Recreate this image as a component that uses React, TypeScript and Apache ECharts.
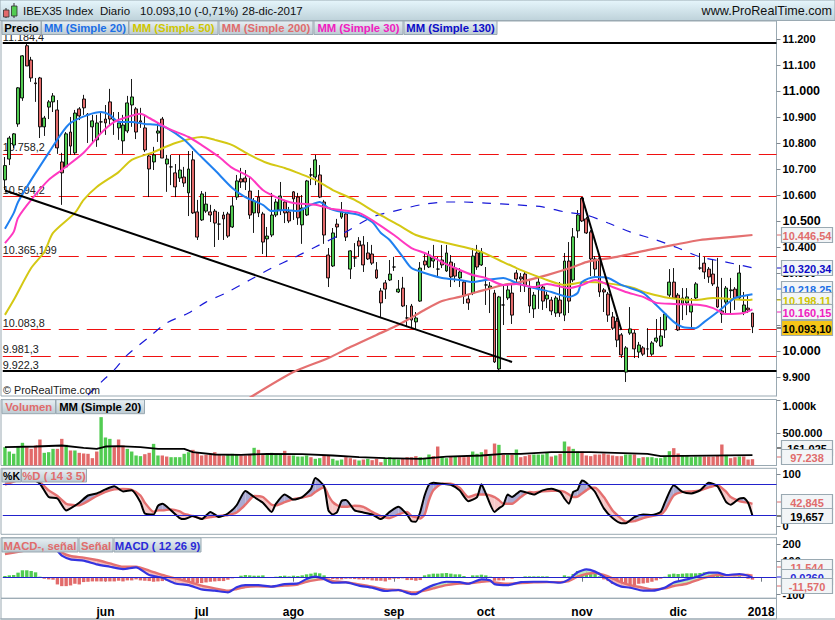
import { useEffect, useRef } from 'react'
import * as echarts from 'echarts'

// trading days per month, last ones are the empty slots before the axis end
const monthDays: [string, number[]][] = [
  ['abr', [28]],
  ['may', [2,3,4,5,8,9,10,11,12,15,16,17,18,19,22,23,24,25,26,29,30,31]],
  ['jun', [1,2,5,6,7,8,9,12,13,14,15,16,19,20,21,22,23,26,27,28,29,30]],
  ['jul', [3,4,5,6,7,10,11,12,13,14,17,18,19,20,21,24,25,26,27,28,31]],
  ['ago', [1,2,3,4,7,8,9,10,11,14,15,16,17,18,21,22,23,24,25,28,29,30,31]],
  ['sep', [1,4,5,6,7,8,11,12,13,14,15,18,19,20,21,22,25,26,27,28,29]],
  ['oct', [2,3,4,5,6,9,10,11,12,13,16,17,18,19,20,23,24,25,26,27,30,31]],
  ['nov', [1,2,3,6,7,8,9,10,13,14,15,16,17,20,21,22,23,24,27,28,29,30]],
  ['dic', [1,4,5,6,7,8,11,12,13,14,15,18,19,20,21,22,27,28,29]],
  ['2018', [2,3,4,5]],
]
const categories = monthDays.flatMap(([m, days]) => days.map((d) => `${d}-${m}`))
const monthTicks: Record<string, string> = {
  '1-jun': 'jun', '3-jul': 'jul', '1-ago': 'ago', '1-sep': 'sep',
  '2-oct': 'oct', '1-nov': 'nov', '1-dic': 'dic', '2-2018': '2018',
}

// open, close, low, high
const ohlc = [
  [10658,10713,10619,10746],[10738,10819,10715,10827],[10792,10835,10781,10838],[10873,11012,10862,11015],
  [10973,11135,10962,11138],[11174,11096,11096,11181],[11119,11050,11035,11131],[11031,11028,10958,11050],
  [11050,10862,10819,11054],[10862,10896,10827,10904],[10938,10958,10892,10965],[10958,10981,10919,10992],
  [10927,10781,10758,10965],[10727,10685,10562,10762],[10708,10835,10704,10842],[10842,10788,10754,10900],
  [10762,10915,10754,10927],[10931,10904,10888,10938],[10969,10935,10908,10985],[10910,10908,10800,10915],
  [10862,10885,10804,10908],[10812,10877,10785,10908],[10881,10881,10838,10919],[10892,10877,10831,10946],
  [10958,10892,10869,11008],[10890,10888,10831,10919],[10858,10877,10812,10919],[10808,10869,10758,10908],
  [10846,10954,10838,10981],[10946,10977,10862,11046],[10931,10842,10815,10938],[10885,10880,10858,10935],
  [10858,10773,10765,10908],[10750,10700,10592,10758],[10727,10754,10696,10785],[10838,10846,10804,10877],
  [10892,10742,10742,10900],[10719,10738,10612,10754],[10708,10708,10638,10754],[10685,10631,10592,10719],
  [10665,10696,10650,10754],[10669,10646,10631,10708],[10608,10700,10519,10769],[10735,10531,10527,10769],
  [10535,10438,10427,10581],[10504,10604,10500,10615],[10538,10565,10531,10612],[10535,10523,10496,10562],
  [10538,10492,10400,10546],[10488,10488,10427,10535],[10523,10508,10427,10535],[10527,10442,10435,10535],
  [10477,10558,10473,10592],[10592,10654,10581,10677],[10662,10650,10627,10704],[10665,10650,10619,10696],
  [10615,10523,10508,10669],[10531,10577,10454,10588],[10592,10531,10515,10619],[10527,10419,10373,10535],
  [10431,10442,10362,10477],[10446,10523,10438,10608],[10523,10573,10515,10585],[10542,10596,10523,10650],
  [10573,10531,10492,10581],[10535,10500,10492,10554],[10612,10585,10504,10615],[10592,10512,10485,10608],
  [10485,10550,10412,10600],[10523,10654,10519,10658],[10677,10677,10638,10704],[10669,10735,10638,10754],
  [10677,10592,10588,10715],[10573,10446,10412,10581],[10369,10281,10246,10396],[10327,10454,10323,10473],
  [10488,10477,10435,10508],[10515,10535,10508,10573],[10527,10438,10423,10535],[10315,10385,10277,10388],
  [10358,10358,10323,10415],[10423,10404,10362,10438],[10408,10331,10304,10442],[10377,10354,10350,10419],
  [10373,10338,10331,10408],[10312,10281,10277,10342],[10231,10185,10131,10242],[10262,10238,10200,10273],
  [10273,10296,10269,10350],[10323,10323,10308,10362],[10227,10238,10223,10273],[10242,10173,10169,10285],
  [10127,10127,10092,10177],[10173,10119,10088,10181],[10112,10127,10085,10150],[10192,10319,10189,10342],
  [10346,10331,10312,10373],[10323,10369,10319,10385],[10346,10358,10319,10408],[10315,10315,10281,10362],
  [10350,10331,10319,10408],[10308,10377,10304,10408],[10342,10285,10246,10369],[10319,10288,10265,10338],
  [10281,10304,10246,10319],[10265,10212,10181,10273],[10200,10185,10158,10215],[10223,10365,10215,10396],
  [10377,10323,10312,10408],[10331,10381,10327,10396],[10254,10254,10177,10323],[10242,10250,10146,10265],
  [10223,9958,9954,10235],[9931,10208,9919,10212],[10177,10177,10100,10254],[10204,10235,10196,10254],
  [10223,10138,10104,10254],[10300,10277,10262,10312],[10285,10277,10227,10300],[10296,10250,10227,10304],
  [10242,10173,10146,10273],[10162,10215,10127,10227],[10242,10265,10162,10285],[10246,10192,10158,10254],
  [10200,10215,10165,10227],[10196,10154,10138,10208],[10146,10204,10131,10212],[10196,10146,10131,10265],
  [10138,10346,10115,10377],[10346,10192,10146,10419],[10273,10439,10265,10473],[10462,10523,10435,10542],
  [10588,10500,10496,10592],[10508,10454,10450,10515],[10458,10354,10288,10465],[10354,10315,10281,10365],
  [10358,10227,10208,10365],[10235,10227,10150,10242],[10219,10138,10112,10227],[10131,10088,10081,10150],
  [10115,10042,10015,10127],[10062,9985,9973,10069],[9919,10012,9881,10019],[10069,10085,10062,10169],
  [10069,10008,9973,10081],[9996,10023,9973,10035],[10012,9988,9981,10019],[10008,10008,9977,10088],
  [9988,10031,9981,10038],[10038,10050,10031,10123],[10019,10058,10015,10131],[10081,10142,10050,10146],
  [10215,10265,10204,10315],[10265,10204,10200,10319],[10215,10081,10077,10223],[10181,10204,10119,10242],
  [10185,10208,10138,10242],[10150,10177,10085,10204],[10204,10258,10196,10265],[10319,10319,10312,10377],
  [10338,10304,10277,10362],[10315,10285,10262,10323],[10296,10258,10250,10354],[10246,10169,10165,10358],
  [10154,10142,10108,10281],[10188,10242,10146,10250],[10232,10235,10146,10281],[10238,10204,10158,10246],
  [10204,10300,10200,10331],[10150,10177,10138,10227],[10165,10158,10146,10215],[10146,10093,10069,10146],
]

// moving averages as [bar index, value]
const ma20 = [[0,10470],[2,10530],[3,10573],[6,10658],[10,10762],[13,10838],[15,10877],[19,10908],[22,10919],[24,10908],[26,10881],[29,10881],[32,10873],[35,10869],[37,10858],[41,10812],[44,10762],[48,10696],[52,10627],[55,10592],[59,10562],[61,10538],[64,10542],[67,10538],[70,10562],[72,10573],[74,10550],[77,10535],[81,10523],[84,10496],[86,10454],[88,10427],[91,10362],[93,10319],[96,10300],[100,10281],[104,10273],[107,10265],[110,10273],[114,10281],[117,10262],[121,10242],[125,10227],[129,10208],[131,10223],[132,10265],[135,10285],[138,10281],[141,10254],[146,10223],[149,10177],[153,10112],[155,10092],[158,10088],[160,10112],[163,10150],[167,10204],[170,10215],[171,10218]]
const ma30 = [[0,10415],[2,10458],[3,10512],[6,10581],[10,10658],[13,10696],[18,10762],[22,10838],[25,10881],[28,10900],[31,10912],[33,10896],[37,10858],[42,10823],[45,10792],[49,10746],[52,10704],[56,10669],[59,10619],[62,10592],[66,10569],[71,10562],[75,10546],[81,10531],[85,10492],[89,10446],[93,10396],[96,10377],[100,10342],[103,10319],[107,10292],[110,10281],[114,10254],[117,10258],[121,10246],[124,10258],[129,10242],[132,10254],[135,10273],[139,10246],[142,10227],[146,10208],[149,10185],[153,10181],[159,10177],[162,10165],[165,10142],[169,10146],[171,10160]]
const ma50 = [[0,10139],[2,10196],[6,10319],[9,10381],[11,10454],[16,10531],[18,10581],[21,10631],[26,10688],[29,10735],[34,10765],[39,10800],[45,10823],[48,10812],[52,10792],[56,10754],[60,10723],[64,10704],[67,10685],[71,10658],[75,10619],[80,10581],[85,10531],[90,10485],[94,10446],[98,10427],[105,10400],[109,10381],[113,10350],[117,10319],[121,10292],[124,10273],[128,10254],[133,10265],[137,10262],[143,10246],[147,10223],[152,10204],[158,10196],[162,10204],[170,10196],[171,10198]]
const ma200 = [[55,9810],[66,9919],[74,9973],[79,10015],[85,10062],[89,10092],[92,10119],[96,10158],[100,10192],[104,10208],[108,10227],[114,10254],[117,10262],[124,10292],[130,10323],[133,10342],[140,10362],[147,10388],[153,10408],[159,10427],[164,10435],[171,10446]]
const ma130 = [[19,9831],[23,9896],[25,9927],[28,9985],[33,10054],[37,10108],[42,10146],[46,10188],[51,10227],[56,10273],[61,10319],[66,10358],[71,10400],[78,10458],[84,10515],[90,10542],[95,10562],[101,10573],[105,10573],[110,10569],[117,10562],[123,10554],[128,10535],[133,10523],[138,10492],[143,10458],[149,10427],[154,10396],[159,10362],[165,10342],[171,10320]]

// drawn trend lines, [bar index, value]
const trendDown = [[0,10617],[116,9958]]
const trendFall = [[132,10592],[141,10081]]
const levels = [
  [11184.4, '11.184,4', true], [10758.2, '10.758,2', false], [10594.2, '10.594,2', false],
  [10365.2, '10.365,199', false], [10083.8, '10.083,8', false], [9981.3, '9.981,3', false], [9922.3, '9.922,3', true],
] as [number, string, boolean][]
const priceTicks = [9900,10000,10100,10200,10300,10400,10500,10600,10700,10800,10900,11000,11100,11200]

// volume in thousands
const volume = [282,215,180,297,349,282,256,308,400,195,205,256,256,410,318,231,231,195,185,180,113,215,744,431,410,282,400,308,256,215,154,144,174,195,333,154,154,138,128,128,128,180,205,241,195,154,164,164,205,169,154,169,180,169,154,154,169,272,241,180,169,195,169,169,226,154,154,138,138,154,128,103,113,154,154,103,77,92,128,113,92,77,92,103,82,103,51,103,128,103,92,103,128,128,144,128,113,169,144,292,138,113,144,144,138,128,138,215,180,205,246,154,338,318,164,164,164,246,128,144,164,169,169,169,205,138,154,180,369,292,256,215,215,154,144,169,169,185,169,154,144,144,169,169,169,113,128,128,128,113,113,138,220,267,185,144,144,128,138,138,138,138,138,154,323,164,113,128,138,138,92,97.238]
const volumeColors =
  'gggggrrrrg' + 'ggrrgrgrrr' + 'rrgggrrrgg' + 'ggrrggrrgg' + 'gggrrrrrrr' + 'rgggrrrgrr' +
  'ggggrrgggg' + 'rggrrgggrr' + 'rgrgrrrggg' + 'grrrrgggrr' + 'ggrgrrrggg' + 'rgrgrgrgrr' +
  'rggggrgrgr' + 'ggrrrrrrrr' + 'rrggrgrggg' + 'gggrrggggg' + 'rrrrrgrrgr' + 'rr'
const volumeMa = [[0,282],[7,292],[13,308],[18,272],[21,256],[23,292],[26,297],[31,282],[35,256],[41,256],[43,205],[48,169],[54,164],[60,180],[68,174],[75,154],[81,128],[87,113],[95,103],[101,138],[109,154],[114,180],[118,180],[125,205],[134,205],[147,180],[150,144],[171,161]]

// stochastic, sampled bars
const stochIdx = [0,2,4,6,8,10,12,14,15,17,19,21,23,25,27,29,31,32,34,35,36,38,40,41,43,45,47,49,51,53,55,57,59,61,62,64,66,68,70,71,73,74,75,76,77,78,80,82,84,86,88,90,92,93,94,95,96,97,98,100,102,104,106,108,109,110,112,113,114,115,116,118,120,121,123,125,127,128,129,130,131,132,133,134,135,137,139,141,142,144,146,148,150,151,153,155,157,159,161,163,165,166,168,169,170,171]
const stochK = [88,95,97,92,82,56,53,30,34,45,59,63,71,77,67,69,46,24,22,39,43,30,15,13,19,13,27,17,24,40,68,56,45,27,43,61,51,56,72,93,77,30,22,27,48,50,30,26,22,13,27,37,22,9,8,27,59,80,84,82,80,69,48,56,81,63,27,34,40,61,56,68,63,61,69,72,66,53,43,66,70,88,84,75,66,34,15,5,5,17,22,21,27,46,79,66,63,69,84,77,46,41,53,54,45,19.657]
const stochD = [80,86,92,92,85,69,58,43,41,40,48,58,66,71,72,70,59,45,27,30,30,32,28,23,19,14,17,19,21,26,41,58,56,41,40,46,52,55,59,66,75,59,46,40,37,37,39,37,27,19,15,22,27,19,17,14,22,50,69,82,82,74,56,61,61,61,56,50,43,43,43,56,66,65,67,68,68,66,61,56,57,63,69,74,74,56,30,14,8,9,15,19,22,30,59,66,67,69,75,79,66,56,48,46,45,42.845]
const stochLevels = [80, 20]

// MACD, sampled bars
const macdIdx = [0,4,8,12,13,15,18,21,24,27,30,33,36,39,42,45,48,51,53,55,58,61,64,67,69,71,73,75,78,81,84,87,90,93,94,95,96,98,101,104,106,109,111,112,115,118,121,124,127,129,131,133,135,137,139,141,143,146,148,151,153,156,159,161,163,165,168,170,171]
const macdLine = [195,215,195,158,131,109,101,79,65,51,61,16,0,-34,-44,-69,-77,-87,-57,-44,-44,-53,-38,-34,-8,6,-8,-30,-28,-47,-59,-79,-73,-97,-97,-83,-67,-44,-24,-26,-36,-10,-16,-38,-44,-26,-24,-24,-30,-10,32,49,36,6,-30,-53,-59,-77,-77,-59,-28,-10,12,30,30,16,22,12,-0.026]
const macdSignal = [140,158,175,184,150,129,119,105,85,65,65,42,16,-4,-24,-47,-63,-77,-67,-55,-51,-53,-47,-40,-24,-14,-8,-20,-26,-40,-53,-69,-73,-87,-87,-83,-77,-63,-44,-34,-34,-24,-20,-28,-36,-32,-28,-26,-26,-20,6,22,28,16,-4,-28,-44,-59,-69,-63,-49,-36,-8,6,16,14,16,16,11.544]
const macdHist = [10,14,16,30,44,44,40,32,6,-6,-10,-12,-40,-50,-50,-46,-36,-40,-26,-24,-22,-22,-22,-22,-22,-22,-18,-22,-16,-16,-10,-16,-18,-20,-24,-22,-20,-16,-24,-28,-28,-30,-24,-30,-32,-32,-28,-24,-22,-20,-20,-12,-4,4,12,16,14,12,12,14,0,0,6,10,12,8,12,10,14,20,24,30,26,14,-4,-8,-10,-10,-6,-6,-8,-10,-12,-10,-16,-18,-18,-22,-12,-6,-6,-4,-14,-14,-18,-14,14,20,24,24,26,28,24,20,20,10,2,14,14,18,14,6,-18,-16,-16,-4,-6,0,0,8,8,8,8,8,8,0,0,0,14,8,22,40,40,40,36,24,8,-10,-20,-36,-44,-50,-50,-50,-44,-36,-34,-30,-24,-16,-6,6,20,24,22,24,26,26,26,28,32,30,24,12,10,4,4,6,8,4,-6,-11.57]

const panelTabs = [
  { y: 21, h: 13.5, items: [
    ['Precio', 2, 39, '#000000'], ['MM (Simple 20)', 41.5, 87, '#1b6fe6'], ['MM (Simple 50)', 129, 89, '#cfc600'],
    ['MM (Simple 200)', 219, 94, '#e06c6c'], ['MM (Simple 30)', 314, 89, '#f020c0'], ['MM (Simple 130)', 404, 93, '#0c0cc8'],
  ] },
  { y: 399.7, h: 14, items: [['Volumen', 2, 53.5, '#e06c6c'], ['MM (Simple 20)', 56, 88.5, '#000000']] },
  { y: 469, h: 13, items: [['%K', 2, 19, '#000000'], ['%D ( 14 3 5)', 21.5, 65, '#e06c6c']] },
  { y: 538, h: 14, items: [['MACD-, señal', 2, 76, '#e06c6c'], ['Señal', 79, 34, '#e06c6c'], ['MACD ( 12 26 9)', 114, 87, '#2a2ad8']] },
] as { y: number; h: number; items: [string, number, number, string][] }[]

const valueTags = [
  ['10.446,54', 235, '#e06c6c'], ['10.320,34', 268, '#0c0cc8'], ['10.218,25', 289, '#1b6fe6'],
  ['10.198,11', 300, '#cfc600'], ['10.160,15', 312, '#f020c0'], ['10.093,10', 328, '#000000'],
  ['161.025', 448, '#000000'], ['97.238', 457, '#e06c6c'], ['42,845', 502, '#e06c6c'], ['19,657', 516, '#000000'],
  ['11,544', 567, '#e06c6c'], ['0,0260', 577, '#2a2ad8'], ['-11,570', 586, '#e06c6c'],
] as [string, number, string][]

const GREEN = '#52cc52'
const RED = '#e26a6a'
const FRAME = '#9aa9b2'
const SANS = '"Liberation Sans", Arial, sans-serif'

const grids = [
  { left: 2.76, right: 58.5, top: 21, height: 375 },
  { left: 2.76, right: 58.5, top: 400, height: 65.5 },
  { left: 2.76, right: 58.5, top: 468.3, height: 66 },
  { left: 2.76, right: 58.5, top: 537.7, height: 60.6 },
]

// fill between two sampled curves, split where they cross
function bandRender(idx: number[], a: number[], b: number[], upColor: string, downColor: string) {
  return (params: any, api: any) => {
    const n = params.dataIndex
    if (n >= idx.length - 1) return null
    const a0 = api.coord([idx[n], a[n]])
    const b0 = api.coord([idx[n], b[n]])
    const a1 = api.coord([idx[n + 1], a[n + 1]])
    const b1 = api.coord([idx[n + 1], b[n + 1]])
    const d0 = a[n] - b[n]
    const d1 = a[n + 1] - b[n + 1]
    const poly = (points: number[][], fill: string) => ({ type: 'polygon', shape: { points }, style: { fill, stroke: null } })
    if (d0 * d1 < 0) {
      const t = d0 / (d0 - d1)
      const cross = [a0[0] + (a1[0] - a0[0]) * t, a0[1] + (a1[1] - a0[1]) * t]
      return {
        type: 'group',
        children: [
          poly([a0, cross, b0], d0 > 0 ? upColor : downColor),
          poly([cross, a1, b1], d1 > 0 ? upColor : downColor),
        ],
      }
    }
    return poly([a0, a1, b1, b0], d0 + d1 >= 0 ? upColor : downColor)
  }
}

function tabElements() {
  const out: any[] = []
  panelTabs.forEach((row) => {
    row.items.forEach(([label, x, w, color]) => {
      out.push({
        type: 'rect', z: 60, shape: { x, y: row.y, width: w, height: row.h },
        style: {
          stroke: FRAME, lineWidth: 1,
          fill: new echarts.graphic.LinearGradient(0, 0, 0, 1, [
            { offset: 0, color: '#e8f0f4' }, { offset: 1, color: '#bccad2' },
          ]),
        },
      })
      out.push({
        type: 'text', z: 61, x: x + w / 2, y: row.y + row.h / 2 + 0.5,
        style: { text: label, fill: color, fontFamily: SANS, fontWeight: 'bold', fontSize: label === '%K' ? 10.5 : 11.3, align: 'center', verticalAlign: 'middle' },
      })
    })
  })
  return out
}

function tagElements() {
  const out: any[] = []
  valueTags.forEach(([label, y, color], n) => {
    const last = label === '10.093,10'
    out.push({ type: 'line', z: 60 + n, shape: { x1: 777, y1: y, x2: 781, y2: y }, style: { stroke: color, lineWidth: 1 } })
    out.push({
      type: 'rect', z: 60 + n, shape: { x: 781.5, y: y - 7.5, width: 51, height: 15 },
      style: { fill: last ? '#f5c518' : '#f2f5f7', stroke: FRAME, lineWidth: 1.2 },
    })
    out.push({
      type: 'text', z: 60 + n, x: 807, y: y + 0.5,
      style: { text: label, fill: color, fontFamily: SANS, fontWeight: 'bold', fontSize: 11, align: 'center', verticalAlign: 'middle' },
    })
  })
  return out
}

function headerElements() {
  const head = (text: string, x: number, align = 'left', fontSize = 11.5) => ({
    type: 'text', z: 61, x, y: 11,
    style: { text, fill: '#101010', fontFamily: SANS, fontSize, align, verticalAlign: 'middle' },
  })
  return [
    {
      type: 'rect', z: 50, shape: { x: 0, y: 0, width: 835, height: 20.5 },
      style: {
        stroke: FRAME, lineWidth: 1,
        fill: new echarts.graphic.LinearGradient(0, 0, 0, 1, [
          { offset: 0, color: '#e6f6fc' }, { offset: 1, color: '#bed2da' },
        ]),
      },
    },
    { type: 'line', z: 51, shape: { x1: 6, y1: 8, x2: 6, y2: 18 }, style: { stroke: '#303030', lineWidth: 1 } },
    { type: 'rect', z: 52, shape: { x: 3.5, y: 10, width: 5.5, height: 7 }, style: { fill: RED, stroke: '#303030', lineWidth: 0.8 } },
    { type: 'line', z: 51, shape: { x1: 14, y1: 3, x2: 14, y2: 18 }, style: { stroke: '#303030', lineWidth: 1 } },
    { type: 'rect', z: 52, shape: { x: 11.5, y: 6, width: 5.5, height: 10 }, style: { fill: GREEN, stroke: '#303030', lineWidth: 0.8 } },
    head('IBEX35 Index', 23),
    head('Diario', 100),
    head('10.093,10 (-0,71%)', 140),
    head('28-dic-2017', 242),
    head('www.ProRealTime.com', 832, 'right', 12.6),
  ]
}

function frameElements() {
  const rows = [[21, 375], [399.5, 66], [468.3, 66], [537.7, 60.6], [598.3, 20.7]]
  return [
    ...rows.map(([y, h]) => ({
      type: 'rect', z: -1, silent: true, shape: { x: 1, y, width: 775.5, height: h },
      style: { fill: 'none', stroke: FRAME, lineWidth: 1 },
    })),
    { type: 'line', z: -1, shape: { x1: 0, y1: 619, x2: 835, y2: 619 }, style: { stroke: FRAME, lineWidth: 1 } },
  ]
}

function priceLabel(v: number) {
  const s = String(v)
  const txt = s.slice(0, -3) + '.' + s.slice(-3)
  return v % 500 === 0 ? `{big|${txt}}` : txt
}

function buildOption(): echarts.EChartsOption {
  const xAxis: any[] = grids.map((_, gridIndex) => ({
    type: 'category', data: categories, gridIndex,
    show: gridIndex === 3,
    axisLine: { show: false },
    axisTick: {
      show: gridIndex === 3, alignWithLabel: true, length: 4, lineStyle: { color: '#707880' },
      interval: (_i: number, v: string) => v in monthTicks,
    },
    axisLabel: {
      show: gridIndex === 3, interval: (_i: number, v: string) => v in monthTicks,
      formatter: (v: string) => monthTicks[v] ?? '',
      color: '#000', fontFamily: SANS, fontWeight: 'bold', fontSize: 12, margin: 8,
    },
    splitLine: { show: false },
  }))

  const sideAxis = (gridIndex: number, min: number, max: number, values: number[], formatter: (v: number) => string, extraLabel = {}) => ({
    type: 'value', gridIndex, min, max, position: 'right', scale: false,
    axisLine: { show: true, lineStyle: { color: FRAME } },
    axisTick: { show: true, length: 4, customValues: values, lineStyle: { color: '#808890' } },
    axisLabel: {
      customValues: values, formatter, color: '#000', fontFamily: SANS, fontWeight: 'bold', fontSize: 11, margin: 6, showMinLabel: true, showMaxLabel: true,
      ...extraLabel,
    },
    splitLine: { show: false },
  })

  const yAxis: any[] = [
    sideAxis(0, 9827, 11269, priceTicks, priceLabel, { rich: { big: { fontSize: 12.5, fontWeight: 'bold', fontFamily: SANS, color: '#000' } } }),
    sideAxis(1, 0, 1007.7, [500, 1000], (v) => (v === 1000 ? '1.000k' : '500.000'), { verticalAlignMaxLabel: 'top' }),
    sideAxis(2, -16.6, 112, [0, 100], (v) => String(v)),
    sideAxis(3, -122.2, 237.4, [-100, 100, 200], (v) => String(v)),
  ]

  const maLine = (name: string, data: number[][], color: string, width = 2, type: any = 'solid') => ({
    name, type: 'line', xAxisIndex: 0, yAxisIndex: 0, data, showSymbol: false, smooth: 0.25,
    lineStyle: { color, width, type }, z: 4,
  })
  const straight = (data: number[][]) => ({
    type: 'line', xAxisIndex: 0, yAxisIndex: 0, data, showSymbol: false,
    lineStyle: { color: '#000', width: 2 }, z: 5,
  })

  return {
    animation: false,
    backgroundColor: '#ffffff',
    textStyle: { fontFamily: SANS },
    grid: grids,
    xAxis,
    yAxis,
    graphic: { elements: [...frameElements(), ...headerElements(), ...tabElements(), ...tagElements(),
      { type: 'text', z: 40, x: 3, y: 390, style: { text: '© ProRealTime.com', fill: '#202020', fontFamily: SANS, fontSize: 10.8, verticalAlign: 'middle' } },
    ] as any },
    series: [
      {
        name: 'IBEX35', type: 'candlestick', xAxisIndex: 0, yAxisIndex: 0, data: ohlc, barWidth: 3.4, z: 3,
        itemStyle: { color: GREEN, color0: RED, borderColor: '#000', borderColor0: '#000', borderColorDoji: '#000', borderWidth: 0.9 },
        markLine: {
          silent: true, symbol: 'none', animation: false, z: 3,
          data: levels.map(([value, text, solid]) => ({
            yAxis: value,
            lineStyle: solid ? { color: '#000', width: 2.2, type: 'solid' } : { color: '#f01010', width: 1.2, type: [20, 8] },
            label: {
              show: true, formatter: text, position: 'insideStartTop', distance: [0, 1],
              color: '#202020', fontFamily: SANS, fontSize: 10.8,
            },
          })),
        },
      },
      maLine('MM 130', ma130, '#1818d8', 1.2, [9, 9]),
      maLine('MM 200', ma200, '#e47070', 2.2),
      maLine('MM 50', ma50, '#d4c814'),
      maLine('MM 20', ma20, '#2080f0'),
      maLine('MM 30', ma30, '#ff38c0'),
      straight(trendDown),
      straight(trendFall),

      {
        name: 'Volumen', type: 'bar', xAxisIndex: 1, yAxisIndex: 1, barWidth: 3.4,
        data: volume.map((v, i) => ({ value: v, itemStyle: { color: volumeColors[i] === 'g' ? GREEN : RED } })),
      },
      { name: 'Volumen MM', type: 'line', xAxisIndex: 1, yAxisIndex: 1, data: volumeMa, showSymbol: false, lineStyle: { color: '#000', width: 1.8 } },

      {
        type: 'custom', xAxisIndex: 2, yAxisIndex: 2, clip: true, z: 1,
        data: stochIdx.map((v, n) => [v, stochK[n], stochD[n]]),
        encode: { x: 0, y: [1, 2] },
        renderItem: bandRender(stochIdx, stochK, stochD, '#aaaad2', '#f6c8c8') as any,
      },
      {
        type: 'line', xAxisIndex: 2, yAxisIndex: 2, data: [], z: 2,
        markLine: {
          silent: true, symbol: 'none', animation: false, label: { show: false },
          lineStyle: { color: '#2222cc', width: 1.2, type: 'solid' },
          data: stochLevels.map((v) => ({ yAxis: v })),
        },
      },
      { name: '%D', type: 'line', xAxisIndex: 2, yAxisIndex: 2, data: stochIdx.map((v, n) => [v, stochD[n]]), showSymbol: false, smooth: 0.2, lineStyle: { color: '#e47070', width: 2.4 }, z: 3 },
      { name: '%K', type: 'line', xAxisIndex: 2, yAxisIndex: 2, data: stochIdx.map((v, n) => [v, stochK[n]]), showSymbol: false, smooth: 0.2, lineStyle: { color: '#000', width: 2 }, z: 3 },

      {
        name: 'MACD-, señal', type: 'bar', xAxisIndex: 3, yAxisIndex: 3, barWidth: 3.4, z: 1,
        data: macdHist.map((v) => ({ value: v, itemStyle: { color: v >= 0 ? GREEN : RED } })),
      },
      {
        type: 'custom', xAxisIndex: 3, yAxisIndex: 3, clip: true, z: 2,
        data: macdIdx.map((v, n) => [v, macdLine[n], macdSignal[n]]),
        encode: { x: 0, y: [1, 2] },
        renderItem: bandRender(macdIdx, macdLine, macdSignal, '#bdeabd', '#f6bcbc') as any,
      },
      {
        type: 'line', xAxisIndex: 3, yAxisIndex: 3, data: [], z: 3,
        markLine: {
          silent: true, symbol: 'none', animation: false, label: { show: false },
          lineStyle: { color: '#2222cc', width: 1.2, type: 'solid' },
          data: [{ yAxis: 0 }],
        },
      },
      { name: 'Señal', type: 'line', xAxisIndex: 3, yAxisIndex: 3, data: macdIdx.map((v, n) => [v, macdSignal[n]]), showSymbol: false, smooth: 0.2, lineStyle: { color: '#e47070', width: 2.4 }, z: 4 },
      { name: 'MACD', type: 'line', xAxisIndex: 3, yAxisIndex: 3, data: macdIdx.map((v, n) => [v, macdLine[n]]), showSymbol: false, smooth: 0.2, lineStyle: { color: '#3434e0', width: 2.2 }, z: 4 },
    ],
  } as echarts.EChartsOption
}

export default function App() {
  const containerRef = useRef<HTMLDivElement>(null)

  useEffect(() => {
    document.body.style.margin = '0'
    if (!containerRef.current) return
    const chart = echarts.init(containerRef.current, undefined, { renderer: 'svg' })
    chart.setOption(buildOption())
    return () => chart.dispose()
  }, [])

  return <div ref={containerRef} style={{ width: 835, height: 620 }} />
}
